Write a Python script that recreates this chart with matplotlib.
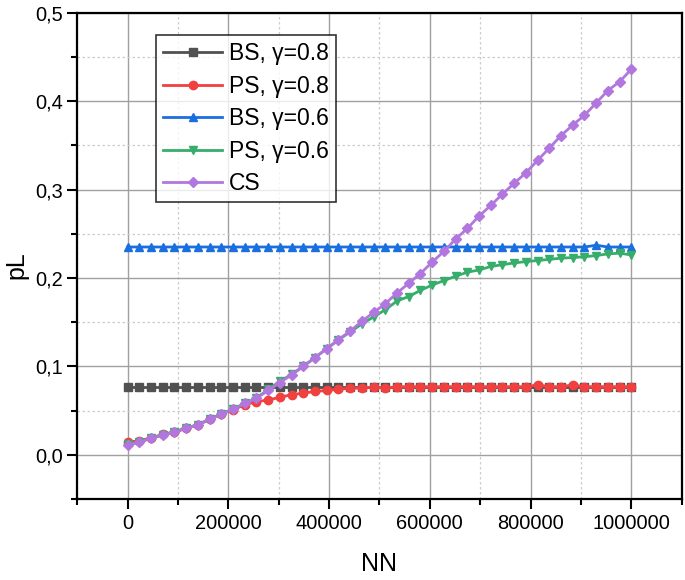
import numpy as np
import matplotlib
matplotlib.use("Agg")
import matplotlib.pyplot as plt
from matplotlib.ticker import MultipleLocator, FuncFormatter

plt.rcParams['font.family'] = ['Liberation Sans', 'DejaVu Sans']

# NN: 44 equally spaced points from 0 to 1000000
nn = np.linspace(0, 1000000, 44)

bs_08 = [0.077] * 44

ps_08 = [0.014, 0.016, 0.019, 0.023, 0.026, 0.030, 0.034, 0.040, 0.046, 0.051,
         0.0565, 0.060, 0.062, 0.065, 0.068, 0.0697, 0.0716, 0.0727, 0.0743, 0.075,
         0.0757, 0.0765, 0.0755, 0.077, 0.077, 0.077, 0.077, 0.077, 0.077, 0.077,
         0.077, 0.077, 0.077, 0.077, 0.077, 0.079, 0.077, 0.077, 0.079, 0.077,
         0.077, 0.077, 0.077, 0.077]

bs_06 = [0.235] * 40 + [0.237, 0.235, 0.235, 0.235]

ps_06 = [0.012, 0.014, 0.019, 0.022, 0.026, 0.030, 0.034, 0.040, 0.046, 0.052,
         0.058, 0.064, 0.074, 0.083, 0.091, 0.100, 0.110, 0.120, 0.130, 0.139,
         0.148, 0.156, 0.164, 0.174, 0.179, 0.186, 0.192, 0.197, 0.202, 0.2065,
         0.209, 0.213, 0.215, 0.217, 0.2185, 0.2197, 0.221, 0.2224, 0.223, 0.224,
         0.2253, 0.2272, 0.228, 0.226]

cs = [0.0113, 0.0139, 0.0189, 0.0226, 0.0252, 0.030, 0.034, 0.040, 0.046, 0.0516,
      0.058, 0.064, 0.0727, 0.0817, 0.0904, 0.100, 0.110, 0.120, 0.130, 0.140,
      0.151, 0.161, 0.171, 0.183, 0.194, 0.205, 0.218, 0.230, 0.244, 0.256,
      0.270, 0.282, 0.295, 0.307, 0.319, 0.333, 0.347, 0.361, 0.373, 0.384,
      0.398, 0.412, 0.422, 0.436]

series = [
    ("BS, γ=0.8", bs_08, "#515151", "s"),
    ("PS, γ=0.8", ps_08, "#F14040", "o"),
    ("BS, γ=0.6", bs_06, "#1A6FDF", "^"),
    ("PS, γ=0.6", ps_06, "#37AD6B", "v"),
    ("CS", cs, "#B177DE", "D"),
]

fig = plt.figure(figsize=(6.85, 5.8), dpi=100)
ax = fig.add_axes([0.1128, 0.1397, 0.8824, 0.8384])

for label, vals, color, marker in series:
    ms = 5 if marker == "D" else 6
    ax.plot(nn, vals, color=color, marker=marker, markersize=ms, linewidth=2,
            label=label, zorder=3)

ax.set_xlim(-100000, 1100000)
ax.set_ylim(-0.05, 0.5)

ax.xaxis.set_major_locator(MultipleLocator(200000))
ax.xaxis.set_minor_locator(MultipleLocator(100000))
ax.yaxis.set_major_locator(MultipleLocator(0.1))
ax.yaxis.set_minor_locator(MultipleLocator(0.05))
ax.xaxis.set_major_formatter(FuncFormatter(lambda v, p: f"{int(round(v))}"))
ax.yaxis.set_major_formatter(FuncFormatter(lambda v, p: f"{v:.1f}".replace('.', ',')))

ax.grid(which='major', color='#a0a0a0', linewidth=1.0, linestyle='-', zorder=0)
ax.grid(which='minor', color='#cccccc', linewidth=0.9, linestyle=(0, (2, 2)), zorder=0)
ax.set_axisbelow(True)

ax.tick_params(which='major', direction='out', length=7, width=1.5, labelsize=14.4)
ax.tick_params(which='minor', direction='out', length=4, width=1.5)
ax.tick_params(top=False, right=False)
for s in ax.spines.values():
    s.set_linewidth(1.6)
    s.set_color('black')

ax.set_xlabel("NN", fontsize=18, labelpad=14)
ax.set_ylabel("pL", fontsize=18)
ax.yaxis.set_label_coords(-0.08, 0.48)

leg = ax.legend(loc='upper left', bbox_to_anchor=(0.130, 0.954), borderaxespad=0,
                fontsize=16.5, frameon=True, fancybox=False, labelspacing=0.42,
                handlelength=2.6, handletextpad=0.3, borderpad=0.3)
leg.get_frame().set_edgecolor('black')
leg.get_frame().set_linewidth(1.2)

fig.savefig("out.png", dpi=100)
